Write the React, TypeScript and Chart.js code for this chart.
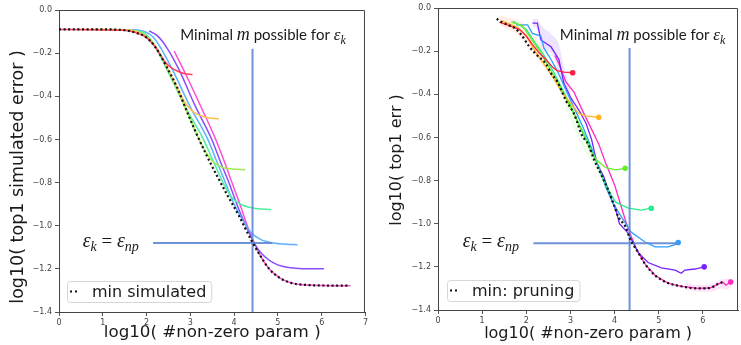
import React, { useEffect, useRef } from "react";
import { Chart, registerables } from "chart.js";

Chart.register(...registerables);

// ---------------- axis settings ----------------
const Y_MIN = -1.4;
const Y_MAX = 0;
const Y_STEP = 0.2;
const X_STEP = 1;

// ---------------- left panel: simulated ----------------
const simMinX = [0, 1.0, 1.5, 1.75, 2.0, 2.2, 2.45, 2.7, 2.9, 3.1, 3.35, 3.6, 3.85, 4.1, 4.4, 4.6, 4.8, 5.05, 5.3, 5.6, 6.0, 6.65];
const simMinY = [-0.09, -0.09, -0.094, -0.105, -0.128, -0.172, -0.26, -0.36, -0.46, -0.555, -0.665, -0.765, -0.86, -0.95, -1.07, -1.14, -1.2, -1.243, -1.265, -1.274, -1.277, -1.278];

const simRedX = [0, 1.5, 1.75, 2.0, 2.2, 2.4, 2.55, 2.7, 2.85, 3.05];
const simRedY = [-0.09, -0.094, -0.105, -0.128, -0.172, -0.235, -0.265, -0.283, -0.294, -0.3];

const simOrangeX = [0.4, 1.6, 1.85, 2.05, 2.25, 2.45, 2.65, 2.85, 3.0, 3.15, 3.35, 3.65];
const simOrangeY = [-0.09, -0.094, -0.106, -0.135, -0.185, -0.26, -0.34, -0.42, -0.46, -0.483, -0.497, -0.505];

const simLimeX = [0.8, 1.7, 1.9, 2.1, 2.3, 2.5, 2.7, 2.9, 3.1, 3.3, 3.5, 3.7, 3.95, 4.25];
const simLimeY = [-0.09, -0.095, -0.108, -0.14, -0.2, -0.28, -0.37, -0.46, -0.555, -0.64, -0.7, -0.727, -0.737, -0.74];

const simTealX = [1.2, 1.85, 2.05, 2.22, 2.5, 2.9, 3.3, 3.5, 3.7, 3.85, 4.0, 4.2, 4.5, 4.85];
const simTealY = [-0.09, -0.1, -0.125, -0.178, -0.29, -0.455, -0.6, -0.69, -0.78, -0.84, -0.88, -0.905, -0.92, -0.925];

const simBlueX = [1.6, 1.95, 2.15, 2.33, 2.6, 3.0, 3.4, 3.6, 3.8, 4.0, 4.2, 4.38, 4.6, 4.9, 5.2, 5.45];
const simBlueY = [-0.09, -0.1, -0.125, -0.178, -0.28, -0.45, -0.6, -0.7, -0.8, -0.9, -0.975, -1.03, -1.063, -1.08, -1.086, -1.088];

const simPurpleX = [2.06, 2.25, 2.48, 2.75, 3.1, 3.49, 3.7, 3.88, 4.1, 4.27, 4.42, 4.55, 4.71, 4.9, 5.1, 5.4, 5.7, 6.05];
const simPurpleY = [-0.097, -0.12, -0.18, -0.28, -0.44, -0.6, -0.71, -0.8, -0.92, -1.0, -1.065, -1.11, -1.145, -1.172, -1.188, -1.197, -1.2, -1.2];

const simMagentaX = [2.63, 2.9, 3.2, 3.58, 3.8, 3.95, 4.15, 4.3, 4.45, 4.6, 4.8, 5.05, 5.3, 5.6, 6.0, 6.65];
const simMagentaY = [-0.19, -0.3, -0.43, -0.6, -0.715, -0.8, -0.91, -1.0, -1.075, -1.14, -1.2, -1.243, -1.265, -1.274, -1.277, -1.278];

// ---------------- right panel: pruning ----------------
const prMinX = [1.33, 1.44, 1.6, 1.75, 1.89, 2.07, 2.25, 2.45, 2.55, 2.7, 2.9, 3.08, 3.26, 3.4, 3.53, 3.69, 3.87, 3.98, 4.09, 4.25, 4.36, 4.54, 4.7, 4.92, 5.21, 5.51, 5.89, 6.16, 6.34, 6.45];
const prMinY = [-0.05, -0.065, -0.08, -0.095, -0.125, -0.18, -0.22, -0.26, -0.3, -0.34, -0.43, -0.49, -0.59, -0.63, -0.7, -0.77, -0.85, -0.91, -0.97, -1.015, -1.075, -1.135, -1.19, -1.24, -1.275, -1.29, -1.3, -1.298, -1.28, -1.27];

const prRedX = [1.39, 1.69, 1.85, 2.0, 2.14, 2.3, 2.45, 2.6, 2.7, 2.85, 3.05];
const prRedY = [-0.065, -0.088, -0.1, -0.13, -0.17, -0.21, -0.24, -0.275, -0.29, -0.297, -0.3];

const prOrangeX = [1.45, 1.8, 2.0, 2.2, 2.4, 2.6, 2.8, 3.0, 3.19, 3.35, 3.64];
const prOrangeY = [-0.06, -0.09, -0.13, -0.2, -0.26, -0.32, -0.39, -0.44, -0.49, -0.5, -0.507];

const prLimeX = [1.66, 1.9, 2.1, 2.3, 2.5, 2.7, 2.9, 3.1, 3.3, 3.45, 3.57, 3.8, 4.02, 4.24];
const prLimeY = [-0.065, -0.08, -0.14, -0.2, -0.27, -0.34, -0.42, -0.5, -0.59, -0.66, -0.7, -0.74, -0.75, -0.743];

const prTealX = [1.7, 2.0, 2.2, 2.4, 2.6, 2.8, 3.0, 3.2, 3.4, 3.6, 3.71, 3.85, 4.02, 4.31, 4.61, 4.83];
const prTealY = [-0.06, -0.1, -0.16, -0.22, -0.29, -0.37, -0.45, -0.54, -0.62, -0.72, -0.78, -0.84, -0.9, -0.928, -0.937, -0.928];

const prBlueX = [1.77, 2.03, 2.14, 2.33, 2.4, 2.52, 2.7, 2.9, 3.1, 3.3, 3.5, 3.7, 3.8, 3.95, 4.13, 4.38, 4.69, 4.92, 5.21, 5.4, 5.44];
const prBlueY = [-0.078, -0.078, -0.118, -0.13, -0.186, -0.225, -0.29, -0.38, -0.47, -0.56, -0.66, -0.77, -0.83, -0.9, -0.96, -1.04, -1.085, -1.107, -1.107, -1.095, -1.087];

const prPurpleX = [2.14, 2.25, 2.33, 2.56, 2.74, 2.85, 3.01, 3.19, 3.35, 3.48, 3.6, 3.75, 3.91, 4.04, 4.11, 4.31, 4.54, 4.76, 5.06, 5.37, 5.51, 5.59, 5.82, 6.03];
const prPurpleY = [-0.07, -0.07, -0.148, -0.18, -0.24, -0.348, -0.417, -0.473, -0.533, -0.61, -0.72, -0.78, -0.875, -0.945, -1.0, -1.045, -1.135, -1.18, -1.205, -1.215, -1.23, -1.215, -1.21, -1.2];

const prMagentaX = [2.65, 2.74, 2.89, 3.08, 3.26, 3.45, 3.64, 3.8, 4.0, 4.15, 4.27, 4.38, 4.5, 4.7, 4.92, 5.21, 5.51, 5.89, 6.16, 6.34, 6.45, 6.52, 6.63];
const prMagentaY = [-0.22, -0.26, -0.34, -0.39, -0.47, -0.55, -0.63, -0.72, -0.82, -0.92, -1.0, -1.06, -1.12, -1.19, -1.24, -1.275, -1.29, -1.3, -1.298, -1.28, -1.27, -1.285, -1.27];

// spread bands (right panel)
const bandStartX = [1.4, 1.6, 1.8, 2.0, 2.2, 2.4];
const bandStartHi = [-0.035, -0.045, -0.055, -0.085, -0.13, -0.19];
const bandStartLo = [-0.08, -0.1, -0.125, -0.165, -0.215, -0.275];

const bandPurpleX = [2.14, 2.25, 2.33, 2.56, 2.74, 2.85, 3.0];
const bandPurpleHi = [-0.05, -0.05, -0.08, -0.12, -0.17, -0.27, -0.38];
const bandPurpleLo = [-0.085, -0.1, -0.17, -0.21, -0.29, -0.37, -0.44];

const bandLimeX = [2.9, 3.1, 3.3, 3.5, 3.7];
const bandLimeHi = [-0.44, -0.53, -0.62, -0.68, -0.72];
const bandLimeLo = [-0.47, -0.565, -0.655, -0.715, -0.75];

const bandMagentaX = [5.6, 5.9, 6.2, 6.4, 6.55, 6.65];
const bandMagentaHi = [-1.275, -1.285, -1.28, -1.26, -1.255, -1.255];
const bandMagentaLo = [-1.305, -1.315, -1.315, -1.3, -1.305, -1.29];

// ---------------- annotation values ----------------
const simVLineX = [4.42, 4.42];
const simVLineY = [-0.18, -1.4];
const simHLineX = [2.15, 4.87];
const simHLineY = [-1.08, -1.08];

const prVLineX = [4.34, 4.34];
const prVLineY = [-0.186, -1.4];
const prHLineX = [2.16, 5.44];
const prHLineY = [-1.09, -1.09];

const simColors = ["#ff4060", "#ffbf50", "#9cee50", "#50eea0", "#5fb0ff", "#8a4dff", "#ff4fd0"];
const prColors = ["#ff1f44", "#ffb422", "#6aee2a", "#26ee8e", "#2f9dff", "#7424ff", "#ff2ac0"];

const ANN_BLUE = "rgba(98,138,214,0.92)";

type Pt = { x: number; y: number };
const zip = (xs: number[], ys: number[]): Pt[] => xs.map((x, i) => ({ x, y: ys[i] }));

function curve(xs: number[], ys: number[], color: string, smooth: boolean, endDot: boolean, width: number) {
  return {
    data: zip(xs, ys),
    borderColor: color,
    backgroundColor: color,
    borderWidth: width,
    cubicInterpolationMode: smooth ? "monotone" : "default",
    tension: 0,
    pointRadius: (c: any) => (endDot && c.dataIndex === c.dataset.data.length - 1 ? 2.8 : 0),
    pointBorderWidth: 0,
    pointHoverRadius: 0,
    fill: false,
  };
}

function band(xs: number[], hi: number[], lo: number[], color: string) {
  return [
    {
      data: zip(xs, hi),
      borderWidth: 0,
      borderColor: "rgba(0,0,0,0)",
      backgroundColor: color,
      pointRadius: 0,
      fill: "+1",
      cubicInterpolationMode: "monotone",
    },
    {
      data: zip(xs, lo),
      borderWidth: 0,
      borderColor: "rgba(0,0,0,0)",
      pointRadius: 0,
      fill: false,
      cubicInterpolationMode: "monotone",
    },
  ];
}

function minCurve(xs: number[], ys: number[]) {
  return {
    data: zip(xs, ys),
    borderColor: "#111",
    borderWidth: 2.2,
    borderDash: [2, 2.6],
    borderCapStyle: "butt",
    cubicInterpolationMode: "monotone",
    pointRadius: 0,
    fill: false,
  };
}

function annLine(xs: number[], ys: number[]) {
  return {
    data: zip(xs, ys),
    borderColor: ANN_BLUE,
    borderWidth: 2,
    pointRadius: 0,
    fill: false,
  };
}

type Seg = { t: string; f: string; dy?: number };
function drawRich(ctx: CanvasRenderingContext2D, x: number, y: number, segs: Seg[]) {
  let cx = x;
  for (const s of segs) {
    ctx.font = s.f;
    ctx.fillText(s.t, cx, y + (s.dy || 0));
    cx += ctx.measureText(s.t).width;
  }
}

const SANS_ANN = "15px Lato";
const MATH = "italic 17px 'Liberation Serif'";
const MATH_SUB = "italic 12px 'Liberation Serif'";
const EQ = "italic 20px 'Liberation Serif'";
const EQ_SUB = "italic 14px 'Liberation Serif'";

type Panel = {
  xMax: number;
  yTitle: string;
  yTitleFont: number;
  yTitleCenter: Pt;
  xTitleFont: number;
  legend: string;
  minimalAt: Pt;
  epsAt: Pt;
  yAxisWidth: number;
  xAxisHeight: number;
  padTop: number;
  padRight: number;
  legendOffset: { dx: number; dy: number };
  datasets: any[];
};

function decorPlugin(p: Panel) {
  return {
    id: "decor",
    afterDatasetsDraw(chart: any) {
      const { ctx, chartArea, scales } = chart;
      ctx.save();
      ctx.fillStyle = "#1a1a1a";
      ctx.textBaseline = "alphabetic";
      ctx.textAlign = "left";
      const mx = scales.x.getPixelForValue(p.minimalAt.x);
      const my = scales.y.getPixelForValue(p.minimalAt.y);
      drawRich(ctx, mx, my, [
        { t: "Minimal ", f: SANS_ANN },
        { t: "m", f: "italic 18px 'Liberation Serif'" },
        { t: " possible for ", f: SANS_ANN },
        { t: "ε", f: MATH },
        { t: "k", f: MATH_SUB, dy: 4 },
      ]);
      const ex = scales.x.getPixelForValue(p.epsAt.x);
      const ey = scales.y.getPixelForValue(p.epsAt.y);
      drawRich(ctx, ex, ey, [
        { t: "ε", f: EQ },
        { t: "k", f: EQ_SUB, dy: 4 },
        { t: " = ", f: "19px 'Liberation Serif'" },
        { t: "ε", f: EQ },
        { t: "np", f: EQ_SUB, dy: 4 },
      ]);

      // legend box
      ctx.font = "16px 'DejaVu Sans'";
      const tw = ctx.measureText(p.legend).width;
      const bx = chartArea.left + p.legendOffset.dx;
      const bh = 21;
      const by = chartArea.bottom - p.legendOffset.dy - bh;
      const bw = 25 + tw + 5;
      ctx.beginPath();
      (ctx as any).roundRect(bx + 0.5, by + 0.5, bw, bh, 3);
      ctx.fillStyle = "rgba(255,255,255,0.85)";
      ctx.fill();
      ctx.strokeStyle = "#d6d6d6";
      ctx.lineWidth = 1;
      ctx.stroke();
      ctx.fillStyle = "#111";
      const cy = by + bh / 2;
      ctx.fillRect(bx + 3, cy - 1, 2, 2);
      ctx.fillRect(bx + 8, cy - 1, 2, 2);
      ctx.fillStyle = "#1a1a1a";
      ctx.textBaseline = "middle";
      ctx.fillText(p.legend, bx + 25, cy + 1);
      ctx.restore();
    },
    afterDraw(chart: any) {
      const { ctx, chartArea } = chart;
      ctx.save();
      ctx.strokeStyle = "#444";
      ctx.lineWidth = 1;
      ctx.beginPath();
      const t = Math.round(chartArea.top) + 0.5;
      const r = Math.round(chartArea.right) - 0.5;
      ctx.moveTo(Math.round(chartArea.left), t);
      ctx.lineTo(r, t);
      ctx.lineTo(r, Math.round(chartArea.bottom));
      ctx.stroke();

      // y axis title
      ctx.translate(p.yTitleCenter.x, p.yTitleCenter.y);
      ctx.rotate(-Math.PI / 2);
      ctx.font = `${p.yTitleFont}px 'DejaVu Sans'`;
      ctx.fillStyle = "#1a1a1a";
      ctx.textAlign = "center";
      ctx.textBaseline = "middle";
      ctx.fillText(p.yTitle, 0, 0);
      ctx.restore();
    },
  };
}

const fmtY = (v: number) => {
  const s = (Math.round(v * 10) / 10).toFixed(1);
  return s === "-0.0" ? "0.0" : s.replace("-", "\u2212");
};

function makeConfig(p: Panel): any {
  return {
    type: "line",
    data: { datasets: p.datasets },
    plugins: [decorPlugin(p)],
    options: {
      animation: false,
      responsive: false,
      devicePixelRatio: 1,
      events: [],
      layout: { padding: { top: p.padTop, right: p.padRight, left: 0, bottom: 0 } },
      plugins: { legend: { display: false }, tooltip: { enabled: false }, title: { display: false }, filler: { propagate: false } },
      scales: {
        x: {
          type: "linear",
          min: 0,
          max: p.xMax,
          afterFit: (s: any) => {
            s.height = p.xAxisHeight;
          },
          afterBuildTicks: (s: any) => {
            s.ticks = s.ticks.filter((t: any) => Math.abs(t.value - Math.round(t.value)) < 1e-6);
          },
          ticks: {
            stepSize: X_STEP,
            font: { size: 8, family: "'DejaVu Sans'" },
            color: "#444",
            padding: 2,
            maxRotation: 0,
            callback: (v: number) => String(Math.round(v)),
          },
          grid: { display: true, drawOnChartArea: false, drawTicks: true, tickLength: 4, color: "#555" },
          border: { display: true, color: "#444", width: 1 },
          title: {
            display: true,
            text: "log10( #non-zero param )",
            font: { size: p.xTitleFont, family: "'DejaVu Sans'" },
            color: "#1a1a1a",
            padding: { top: 0, bottom: 2 },
          },
        },
        y: {
          type: "linear",
          min: Y_MIN,
          max: Y_MAX,
          afterFit: (s: any) => {
            s.width = p.yAxisWidth;
          },
          ticks: {
            stepSize: Y_STEP,
            font: { size: 8, family: "'DejaVu Sans'" },
            color: "#444",
            padding: 3,
            callback: (v: number) => fmtY(v),
          },
          grid: { display: true, drawOnChartArea: false, drawTicks: true, tickLength: 4, color: "#555" },
          border: { display: true, color: "#444", width: 1 },
          title: { display: false },
        },
      },
    },
  };
}

const simPanel: Panel = {
  xMax: 7,
  yTitle: "log10( top1 simulated error )",
  yTitleFont: 17.5,
  yTitleCenter: { x: 18, y: 177 },
  xTitleFont: 16.7,
  legend: "min simulated",
  minimalAt: { x: 2.77, y: -0.139 },
  epsAt: { x: 0.54, y: -1.1 },
  yAxisWidth: 59,
  xAxisHeight: 33,
  padTop: 10,
  padRight: 2,
  legendOffset: { dx: 8, dy: 10 },
  datasets: [
    minCurve(simMinX, simMinY),
    annLine(simVLineX, simVLineY),
    annLine(simHLineX, simHLineY),
    curve(simRedX, simRedY, simColors[0], true, false, 1.5),
    curve(simOrangeX, simOrangeY, simColors[1], true, false, 1.5),
    curve(simLimeX, simLimeY, simColors[2], true, false, 1.5),
    curve(simTealX, simTealY, simColors[3], true, false, 1.5),
    curve(simBlueX, simBlueY, simColors[4], true, false, 1.5),
    curve(simPurpleX, simPurpleY, simColors[5], true, false, 1.5),
    curve(simMagentaX, simMagentaY, simColors[6], true, false, 1.5),
  ],
};

const prPanel: Panel = {
  xMax: 6.8,
  yTitle: "log10( top1 err )",
  yTitleFont: 16,
  yTitleCenter: { x: 27, y: 160 },
  xTitleFont: 16,
  legend: "min: pruning",
  minimalAt: { x: 2.76, y: -0.148 },
  epsAt: { x: 0.56, y: -1.108 },
  yAxisWidth: 68,
  xAxisHeight: 35,
  padTop: 8,
  padRight: 0,
  legendOffset: { dx: 9, dy: 9 },
  datasets: [
    minCurve(prMinX, prMinY),
    annLine(prVLineX, prVLineY),
    annLine(prHLineX, prHLineY),
    curve(prRedX, prRedY, prColors[0], false, true, 1.3),
    curve(prOrangeX, prOrangeY, prColors[1], false, true, 1.3),
    curve(prLimeX, prLimeY, prColors[2], false, true, 1.3),
    curve(prTealX, prTealY, prColors[3], false, true, 1.3),
    curve(prBlueX, prBlueY, prColors[4], false, true, 1.3),
    curve(prPurpleX, prPurpleY, prColors[5], false, true, 1.3),
    curve(prMagentaX, prMagentaY, prColors[6], false, true, 1.3),
    ...band(bandStartX, bandStartHi, bandStartLo, "rgba(255,140,110,0.16)"),
    ...band(bandPurpleX, bandPurpleHi, bandPurpleLo, "rgba(150,90,255,0.16)"),
    ...band(bandLimeX, bandLimeHi, bandLimeLo, "rgba(110,235,60,0.12)"),
    ...band(bandMagentaX, bandMagentaHi, bandMagentaLo, "rgba(255,80,200,0.16)"),
  ],
};

function PanelChart({ panel, left, width }: { panel: Panel; left: number; width: number }) {
  const ref = useRef<HTMLCanvasElement | null>(null);
  useEffect(() => {
    if (!ref.current) return;
    const chart = new Chart(ref.current, makeConfig(panel));
    return () => chart.destroy();
  }, [panel]);
  return (
    <canvas
      ref={ref}
      width={width}
      height={345}
      style={{ position: "absolute", left, top: 0, width, height: 345, display: "block" }}
    />
  );
}

export default function App() {
  return (
    <div
      style={{
        position: "fixed",
        left: 0,
        top: 0,
        width: 741,
        height: 345,
        overflow: "hidden",
        background: "#fff",
      }}
    >
      <PanelChart panel={simPanel} left={0} width={370} />
      <PanelChart panel={prPanel} left={370} width={371} />
    </div>
  );
}
